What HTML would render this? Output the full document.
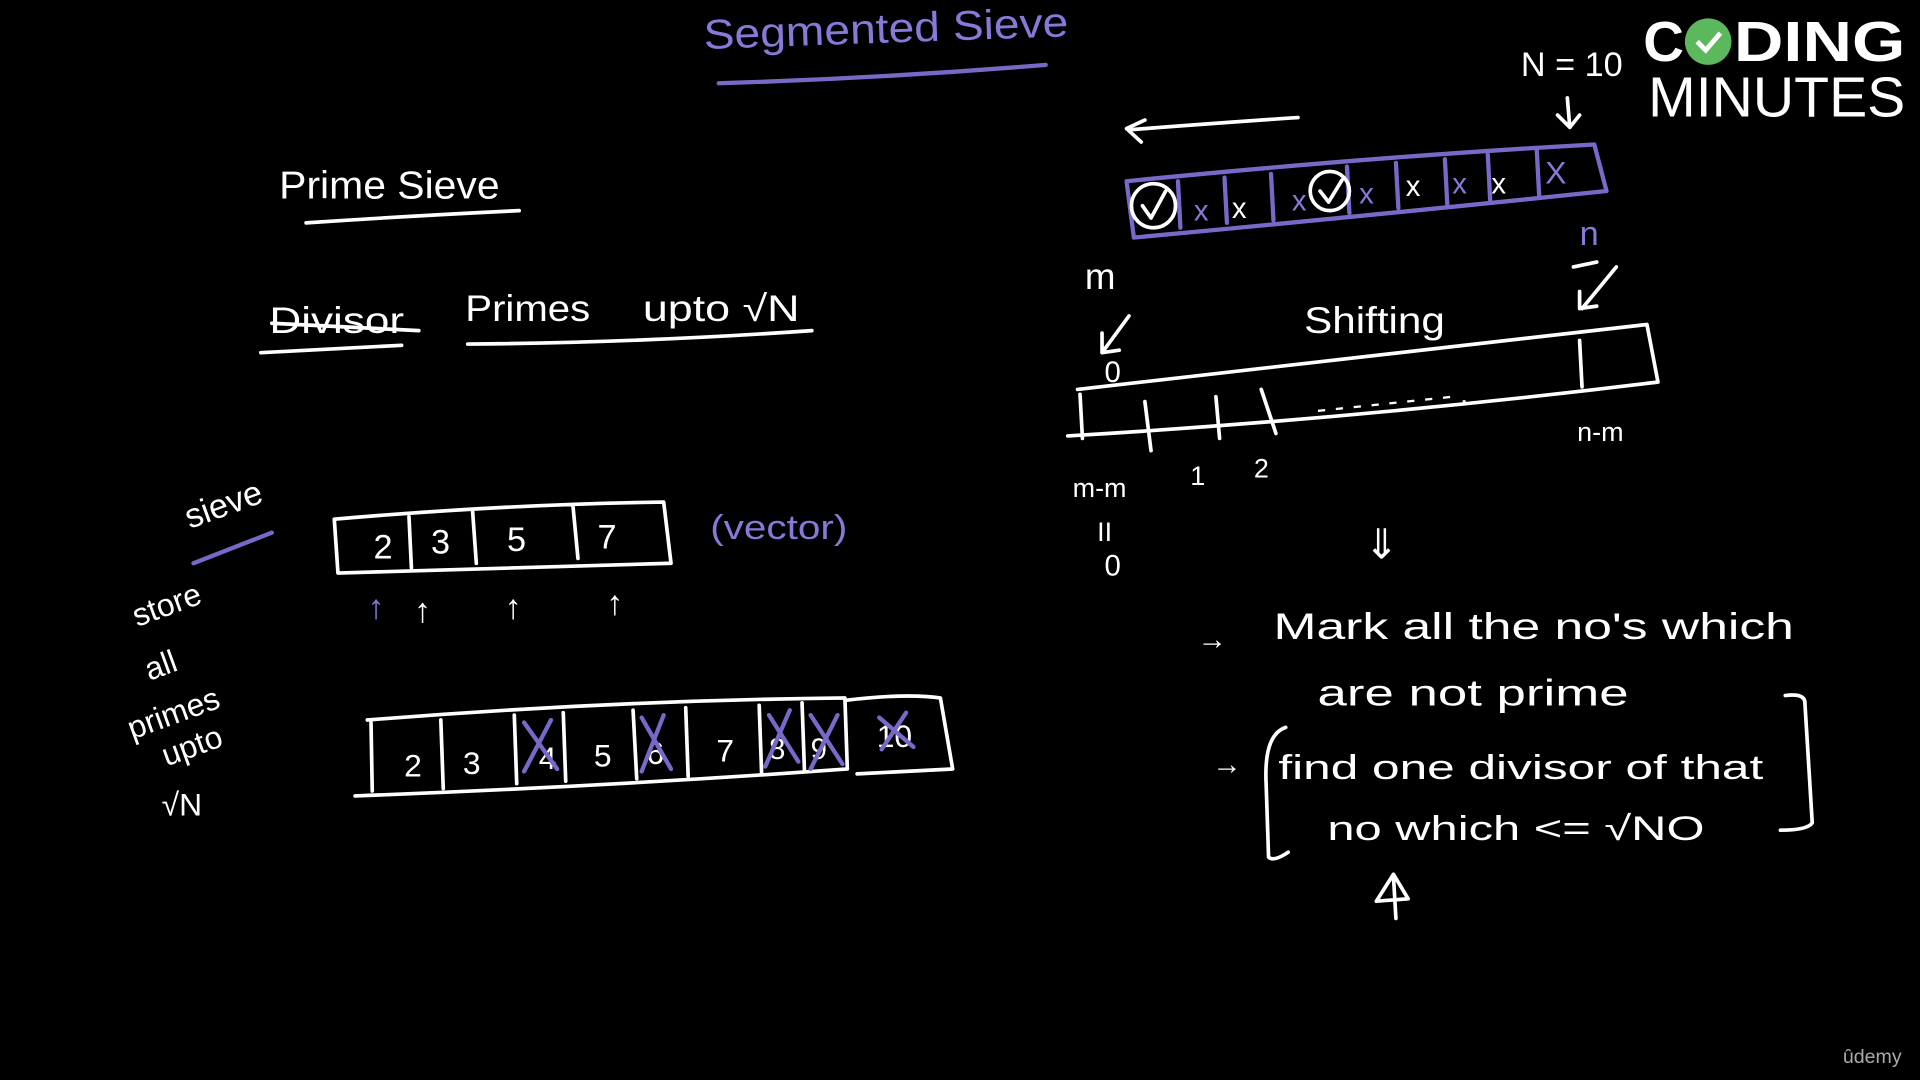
<!DOCTYPE html>
<html><head><meta charset="utf-8"><style>
html,body{margin:0;padding:0;background:#000;width:1920px;height:1080px;overflow:hidden}
svg{display:block}
text{font-family:"Liberation Sans",sans-serif;fill:#fff}
.w{stroke:#fff;stroke-width:3;fill:none;stroke-linecap:round;stroke-linejoin:round}
.p{stroke:#7a68c8;stroke-width:3.5;fill:none;stroke-linecap:round;stroke-linejoin:round}
.pt{fill:#8a78d8}
</style></head><body>
<svg width="1920" height="1080" viewBox="0 0 1568 882" preserveAspectRatio="none">
<rect width="1568" height="882" fill="#000"/>
<g>
<text x="575" y="40" font-size="34" class="pt" textLength="298" lengthAdjust="spacingAndGlyphs" transform="rotate(-2 575 40)">Segmented Sieve</text>
<path class="p" d="M587 68 Q720 64 854 53"/>
</g>
<g>
<text x="228" y="162" font-size="32" textLength="180" lengthAdjust="spacingAndGlyphs">Prime Sieve</text>
<path class="w" d="M250 182 Q340 176 424 172"/>
</g>
<g>
<text x="220" y="272" font-size="30" textLength="110" lengthAdjust="spacingAndGlyphs">Divisor</text>
<path class="w" d="M222 264 L342 270 M213 288 L328 282"/>
<text x="380" y="262" font-size="30" textLength="102" lengthAdjust="spacingAndGlyphs">Primes</text>
<text x="525" y="262" font-size="30" textLength="128" lengthAdjust="spacingAndGlyphs">upto √N</text>
<path class="w" d="M382 281 Q520 280 663 270"/>
</g>
<g>
<text x="155" y="432" font-size="28" transform="rotate(-20 155 432)">sieve</text>
<path class="p" d="M158 460 L222 435"/>
<text x="112" y="512" font-size="26" transform="rotate(-20 112 512)">store</text>
<text x="122" y="556" font-size="26" transform="rotate(-20 122 556)">all</text>
<text x="108" y="604" font-size="26" transform="rotate(-20 108 604)">primes</text>
<text x="136" y="626" font-size="26" transform="rotate(-20 136 626)">upto</text>
<text x="132" y="666" font-size="26">√N</text>
</g>
<g>
<path class="w" d="M273 424 Q410 412 542 410 L548 460 Q410 464 276 468 Z M334 422 L336 464 M386 418 L389 460 M468 414 L472 456"/>
<text x="305" y="456" font-size="28">2</text><text x="352" y="452" font-size="28">3</text>
<text x="414" y="450" font-size="28">5</text><text x="488" y="448" font-size="28">7</text>
<text x="580" y="440" font-size="28" class="pt" textLength="112" lengthAdjust="spacingAndGlyphs">(vector)</text>
<text x="300" y="505" font-size="28" class="pt">↑</text>
<text x="338" y="508" font-size="28">↑</text><text x="412" y="505" font-size="28">↑</text><text x="495" y="502" font-size="28">↑</text>
</g>
<g>
<path class="w" d="M300 588 Q500 572 690 570 L692 628 Q500 642 290 650 M303 590 L304 646 M360 588 L362 644 M420 584 L422 640 M460 582 L462 638 M517 580 L520 636 M560 578 L562 634 M620 576 L622 632 M655 574 L657 630 M690 572 Q740 566 768 570 L778 628 L700 632"/>
<text x="330" y="634" font-size="26">2</text><text x="378" y="632" font-size="26">3</text>
<text x="440" y="628" font-size="26">4</text><text x="485" y="626" font-size="26">5</text>
<text x="528" y="624" font-size="26">6</text><text x="585" y="622" font-size="26">7</text>
<text x="628" y="620" font-size="24">8</text><text x="662" y="620" font-size="24">9</text>
<text x="716" y="610" font-size="26">10</text>
<path class="p" d="M428 590 L455 628 M450 588 L428 630 M524 586 L548 628 M542 584 L524 630 M628 584 L652 622 M645 580 L625 626 M662 584 L688 624 M684 584 L662 628 M718 586 L746 610 M740 582 L720 612"/>
</g>
<g>
<path class="w" d="M920 105 L935 98 M920 105 L932 116 M922 106 Q1000 100 1060 96"/>
<text x="1242" y="62" font-size="28">N = 10</text>
<path class="w" d="M1280 80 L1282 104 M1272 94 L1282 104 L1290 94"/>
<path class="p" d="M920 148 Q1120 128 1302 118 L1312 156 Q1120 176 926 194 Z M962 148 L964 186 M1000 145 L1002 182 M1038 142 L1040 180 M1100 136 L1102 174 M1140 133 L1142 170 M1180 130 L1182 168 M1215 126 L1217 164 M1255 122 L1257 160"/>
<circle cx="942" cy="168" r="18" class="w"/><path class="w" d="M933 168 L940 178 L952 156"/>
<circle cx="1086" cy="156" r="16" class="w"/><path class="w" d="M1078 156 L1085 165 L1096 147"/>
<text x="975" y="180" font-size="24" class="pt">x</text><text x="1006" y="178" font-size="24">x</text>
<text x="1055" y="172" font-size="24" class="pt">x</text><text x="1110" y="166" font-size="24" class="pt">x</text>
<text x="1148" y="160" font-size="24">x</text><text x="1186" y="158" font-size="24" class="pt">x</text>
<text x="1218" y="158" font-size="24">x</text><text x="1262" y="150" font-size="26" class="pt">X</text>
<text x="1290" y="200" font-size="28" class="pt">n</text>
<text x="886" y="236" font-size="30">m</text>
</g>
<g>
<path class="w" d="M1285 218 L1304 214 M1320 218 L1292 252 M1290 238 L1290 252 L1304 250"/>
<path class="w" d="M922 258 L900 288 M900 272 L900 288 L914 286"/>
<text x="1065" y="272" font-size="30" textLength="115" lengthAdjust="spacingAndGlyphs">Shifting</text>
<text x="902" y="312" font-size="24">0</text>
<path class="w" d="M880 318 Q1120 290 1345 265 L1354 312 Q1110 342 872 356 M882 322 L884 358 M935 328 L940 368 M993 324 L996 358 M1030 318 L1042 354 M1290 278 L1292 316"/>
<text x="1076" y="342" font-size="24" transform="rotate(-6 1076 342)">- - - - - - - - .</text>
<text x="876" y="406" font-size="22">m-m</text><text x="972" y="396" font-size="22">1</text>
<text x="1024" y="390" font-size="22">2</text><text x="1288" y="360" font-size="22">n-m</text>
<text x="896" y="442" font-size="22">II</text><text x="902" y="470" font-size="24">0</text>
<text x="1114" y="456" font-size="34">⇓</text>
</g>
<g>
<text x="978" y="530" font-size="24">→</text>
<text x="1040" y="522" font-size="30" textLength="425" lengthAdjust="spacingAndGlyphs">Mark  all  the  no's  which</text>
<text x="1076" y="576" font-size="30" textLength="254" lengthAdjust="spacingAndGlyphs">are  not   prime</text>
<text x="990" y="632" font-size="24">→</text>
<path class="w" d="M1050 594 Q1032 600 1034 640 L1036 700 Q1040 704 1052 696 M1458 568 Q1474 566 1474 574 L1480 672 Q1476 678 1454 678"/>
<text x="1044" y="636" font-size="28" textLength="396" lengthAdjust="spacingAndGlyphs">find one divisor of that</text>
<text x="1084" y="686" font-size="28" textLength="308" lengthAdjust="spacingAndGlyphs">no which &lt;= √NO</text>
<path class="w" d="M1138 716 L1140 750 M1124 736 L1138 714 L1150 734 Z" fill="#fff"/>
</g>
<g>
<text x="1342" y="50" font-size="46" font-weight="bold">C</text>
<circle cx="1395" cy="34" r="19" fill="#5cb85c"/><path d="M1386 34 L1393 41 L1405 27" stroke="#fff" stroke-width="4" fill="none"/>
<text x="1416" y="50" font-size="46" font-weight="bold" textLength="140" lengthAdjust="spacingAndGlyphs">DING</text>
<text x="1346" y="95" font-size="46" textLength="210" lengthAdjust="spacingAndGlyphs">MINUTES</text>
</g>
<text x="1505" y="868" font-size="16" style="fill:#aaa">ûdemy</text>
</svg>
</body></html>
